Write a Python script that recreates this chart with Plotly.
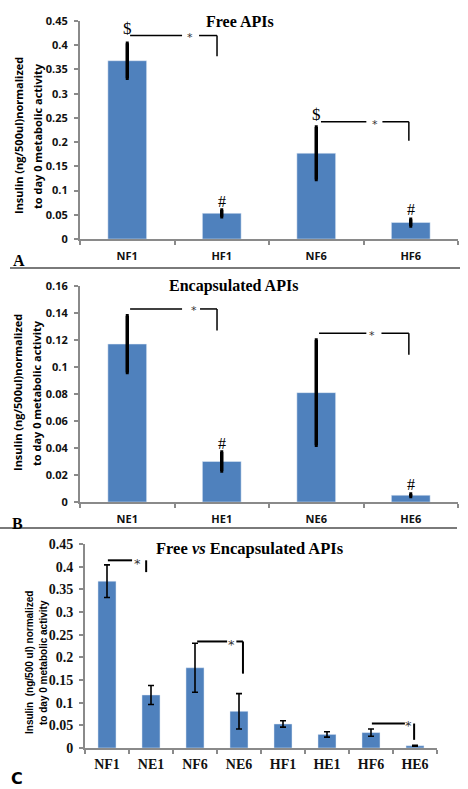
import plotly.graph_objects as go

W, H = 468, 789

# ---------------- data ----------------
cats_a = ["NF1", "HF1", "NF6", "HF6"]
vals_a = [0.368, 0.053, 0.177, 0.034]
errs_a = [0.036, 0.007, 0.054, 0.007]

cats_b = ["NE1", "HE1", "NE6", "HE6"]
vals_b = [0.117, 0.030, 0.081, 0.005]
errs_b = [0.021, 0.007, 0.039, 0.001]

cats_c = ["NF1", "NE1", "NF6", "NE6", "HF1", "HE1", "HF6", "HE6"]
vals_c = [0.368, 0.117, 0.177, 0.081, 0.053, 0.030, 0.034, 0.005]
errs_c = [0.036, 0.021, 0.054, 0.039, 0.007, 0.006, 0.008, 0.001]

ticks_a = [0, 0.05, 0.1, 0.15, 0.2, 0.25, 0.3, 0.35, 0.4, 0.45]
ticklab_a = ["0", "0.05", "0.1", "0.15", "0.2", "0.25", "0.3", "0.35", "0.4", "0.45"]
ticks_b = [0, 0.02, 0.04, 0.06, 0.08, 0.1, 0.12, 0.14, 0.16]
ticklab_b = ["0", "0.02", "0.04", "0.06", "0.08", "0.1", "0.12", "0.14", "0.16"]

BLUE = "#4F81BD"
AXC = "#8a8a8a"
SANS = "Open Sans, Carlito, Calibri, sans-serif"
SERIF = "Liberation Serif, Times New Roman, serif"
TITLEF = "Liberation Serif, Cambria, serif"


def px(x):
    return x / W


def py(y):
    return 1 - y / H


fig = go.Figure()

fig.add_trace(go.Bar(x=cats_a, y=vals_a, marker_color=BLUE, xaxis="x", yaxis="y",
                     error_y=dict(type="data", array=errs_a, color="black", thickness=3.5, width=1.5)))
fig.add_trace(go.Bar(x=cats_b, y=vals_b, marker_color=BLUE, xaxis="x2", yaxis="y2",
                     error_y=dict(type="data", array=errs_b, color="black", thickness=3.5, width=1.5)))
fig.add_trace(go.Bar(x=cats_c, y=vals_c, marker_color=BLUE, xaxis="x3", yaxis="y3",
                     error_y=dict(type="data", array=errs_c, color="black", thickness=1.6, width=3)))

xcommon = dict(showline=True, linecolor=AXC, linewidth=2, ticks="outside", tickson="boundaries",
               ticklen=4, tickcolor=AXC, tickwidth=2, showgrid=False, zeroline=False, fixedrange=True,
               automargin=False)
ycommon = dict(showline=True, linecolor=AXC, linewidth=2, ticks="outside", ticklen=4, tickcolor=AXC,
               tickwidth=2, showgrid=False, zeroline=False, fixedrange=True, automargin=False)

fontab = dict(family=SANS, size=11, color="#111111", weight="bold")
fontc = dict(family=SERIF, size=14, color="#111111", weight="bold")

fig.update_layout(
    width=W, height=H, margin=dict(l=0, r=0, t=0, b=0, autoexpand=False),
    paper_bgcolor="white", plot_bgcolor="white", showlegend=False, bargap=0.59,
    xaxis=dict(domain=[px(80), px(458)], anchor="y", tickfont=fontab, ticklabelstandoff=6, **xcommon),
    yaxis=dict(domain=[py(239), py(21)], anchor="x", range=[0, 0.45], tickvals=ticks_a, ticktext=ticklab_a,
               tickfont=fontab, ticklabelstandoff=4, **ycommon),
    xaxis2=dict(domain=[px(80), px(458)], anchor="y2", tickfont=fontab, ticklabelstandoff=6, **xcommon),
    yaxis2=dict(domain=[py(502), py(286)], anchor="x2", range=[0, 0.16], tickvals=ticks_b, ticktext=ticklab_b,
                tickfont=fontab, ticklabelstandoff=4, **ycommon),
    xaxis3=dict(domain=[px(85), px(437)], anchor="y3", tickfont=fontc, ticklabelstandoff=2, **xcommon),
    yaxis3=dict(domain=[py(748), py(544)], anchor="x3", range=[0, 0.45], tickvals=ticks_a, ticktext=ticklab_a,
                tickfont=fontc, ticklabelstandoff=3, **ycommon),
)

shapes = []
annos = []


def line(xref, yref, x0, y0, x1, y1, w=1.5):
    shapes.append(dict(type="line", xref=xref, yref=yref, x0=x0, y0=y0, x1=x1, y1=y1,
                       line=dict(color="black", width=w)))


def text(xref, yref, x, y, t, size=12, family=SERIF, weight="normal", angle=0, xanchor="center",
         color="black"):
    annos.append(dict(xref=xref, yref=yref, x=x, y=y, text=t, showarrow=False, textangle=angle,
                      xanchor=xanchor, yanchor="middle",
                      font=dict(family=family, size=size, color=color, weight=weight)))


def bracket(xr, yr, i, y, y_end, a0, a1, sx, b0, b1, vx, star_y, w=1.5, starsize=11):
    line(xr, yr, i + a0, y, i + a1, y, w)
    text(xr, yr, i + sx, star_y, "*", size=starsize, family="DejaVu Sans", color="#333333")
    if b1 > b0:
        line(xr, yr, i + b0, y, i + b1, y, w)
    line(xr, yr, i + vx, y, i + vx, y_end, w)


# ---- Panel A brackets ----
bracket("x", "y", 0, 0.42, 0.377, 0.03, 0.58, 0.66, 0.76, 0.95, 0.95, 0.415)
bracket("x", "y", 2, 0.242, 0.203, 0.05, 0.53, 0.62, 0.70, 0.98, 0.98, 0.237)
text("x", "y", 0, 0.435, "$", size=17, family=SERIF)
text("x", "y", 2, 0.256, "$", size=17, family=SERIF)
text("x", "y", 1, 0.077, "#", size=16, family=SERIF)
text("x", "y", 3, 0.060, "#", size=16, family=SERIF)

# ---- Panel B brackets ----
bracket("x2", "y2", 0, 0.143, 0.127, 0.03, 0.58, 0.71, 0.77, 0.95, 0.95, 0.1415)
bracket("x2", "y2", 2, 0.125, 0.109, 0.03, 0.53, 0.59, 0.69, 0.98, 0.98, 0.1235)
text("x2", "y2", 1, 0.0435, "#", size=16, family=SERIF)
text("x2", "y2", 3, 0.0128, "#", size=16, family=SERIF)

# ---- Panel C brackets ----
bracket("x3", "y3", 0, 0.414, 0.388, 0.02, 0.57, 0.70, 0.0, 0.0, 0.89, 0.408, w=2, starsize=13)
bracket("x3", "y3", 2, 0.235, 0.164, 0.05, 0.73, 0.82, 0.94, 1.09, 1.09, 0.229, w=2, starsize=13)
bracket("x3", "y3", 6, 0.054, 0.018, 0.02, 0.77, 0.86, 0.0, 0.0, 0.98, 0.049, w=2, starsize=13)

# ---- titles ----
text("paper", "paper", px(240), py(21), "<b>Free APIs</b>", size=16, family=TITLEF)
text("paper", "paper", px(233), py(286), "<b>Encapsulated APIs</b>", size=16, family=TITLEF)
text("paper", "paper", px(250), py(548), "<b>Free <i>vs</i> Encapsulated APIs</b>", size=16.5, family=TITLEF)

# ---- y-axis titles ----
for yc in (136, 393):
    text("paper", "paper", px(18), py(yc), "Insulin (ng/500ul)normalized", size=11, family=SANS,
         weight="bold", angle=-90)
    text("paper", "paper", px(37), py(yc), "to day 0 metabolic activity", size=11, family=SANS,
         weight="bold", angle=-90)
text("paper", "paper", px(29), py(663), "Insulin  (ng/500 ul) normalized", size=10,
     family="Liberation Sans Narrow, Arial Narrow, sans-serif", weight="bold", angle=-90)
text("paper", "paper", px(43), py(663), "to day 0 metabolic activity", size=10,
     family="Liberation Sans Narrow, Arial Narrow, sans-serif", weight="bold", angle=-90)

# ---- panel letters ----
text("paper", "paper", px(19), py(260), "<b>A</b>", size=16, family=SERIF)
text("paper", "paper", px(17), py(523), "<b>B</b>", size=16, family=SERIF)
text("paper", "paper", px(17), py(778), "C", size=16, family="DejaVu Sans", weight="bold")

# ---- separator lines ----
shapes.append(dict(type="line", xref="paper", yref="paper", x0=px(10), x1=px(460), y0=py(268), y1=py(268),
                   line=dict(color="#7a7a7a", width=2)))
shapes.append(dict(type="line", xref="paper", yref="paper", x0=px(0), x1=px(457), y0=py(528), y1=py(528),
                   line=dict(color="#7a7a7a", width=2)))

fig.update_layout(shapes=shapes, annotations=annos)
fig.write_html("out.html", config={"displayModeBar": False},
               post_script="document.body.style.margin='0';document.body.style.padding='0';")
